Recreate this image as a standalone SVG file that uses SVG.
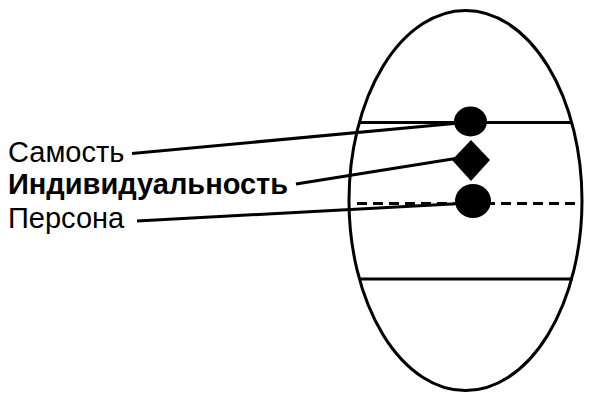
<svg xmlns="http://www.w3.org/2000/svg" width="600" height="400" viewBox="0 0 600 400">
<style>
.ln{stroke:#000;stroke-width:3;fill:none}
.ds{stroke:#000;stroke-width:3;fill:none;stroke-dasharray:10 6}
.dot{fill:#000}
.lbl{font-family:"Liberation Sans",Arial,sans-serif;font-size:29px;fill:#000}
.b{font-weight:bold}
</style>
<rect width="600" height="400" fill="#fff"/>
<g id="egg">
<ellipse cx="465.5" cy="200.5" rx="116.5" ry="190" class="ln"/>
<line x1="358" y1="122.5" x2="572" y2="122.5" class="ln"/>
<line x1="357" y1="203.5" x2="575" y2="203.5" class="ds"/>
<line x1="359" y1="279" x2="573" y2="279" class="ln"/>
</g>
<g id="connectors">
<line x1="132" y1="153.5" x2="470" y2="122" class="ln"/>
<line x1="296" y1="184" x2="465" y2="157" class="ln"/>
<line x1="137" y1="221" x2="470" y2="203" class="ln"/>
</g>
<g id="self">
<ellipse cx="470.5" cy="121.5" rx="16.5" ry="15" class="dot"/>
</g>
<g id="individuality">
<polygon points="471,140 490,160 471,181 452,160" class="dot"/>
</g>
<g id="persona">
<ellipse cx="473" cy="201" rx="18" ry="17" class="dot"/>
</g>
<g id="labels">
<text x="8" y="162" class="lbl">Самость</text>
<text x="8" y="194" class="lbl b">Индивидуальность</text>
<text x="8" y="228" class="lbl">Персона</text>
</g>
</svg>
